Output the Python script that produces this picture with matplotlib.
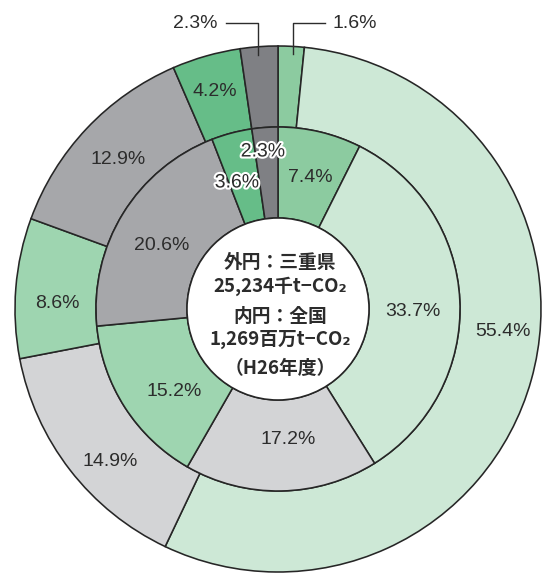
import matplotlib
matplotlib.use('Agg')
import matplotlib.pyplot as plt
import matplotlib.patheffects as pe
import numpy as np

# ---------------- data ----------------
outer_values = [1.6, 55.4, 14.9, 8.6, 12.9, 4.2, 2.3]   # 三重県
inner_values = [7.4, 33.7, 17.2, 15.2, 20.6, 3.6, 2.3]   # 全国
colors = ['#8ccba0', '#cde8d6', '#d3d4d6', '#9ed5b0', '#a6a7aa', '#66bd88', '#7f8084']
center_lines = ['外円：三重県', '25,234千t−CO₂', '内円：全国', '1,269百万t−CO₂', '（H26年度）']

# ---------------- layout (pixel coords, y measured from top) ----------------
W, H = 545, 574
CX, CY = 278, 309
R_OUT, R_MID, R_IN = 263, 182, 91
outer_label_pos = [None, (503, 332), (110, 461), (57, 303), (118, 160), (215, 91), None]
inner_label_pos = [(310, 178), (413, 311), (288, 440), (174, 392), (162, 246), (237, 183), (263, 152)]
center_line_y = [263, 286, 317, 339, 368]
TXT = '#2c2c2c'
EDGE = '#262626'

fig = plt.figure(figsize=(W / 100, H / 100), dpi=100)
ax = fig.add_axes([0, 0, 1, 1])

def Y(y):
    return H - y

wp = dict(edgecolor=EDGE, linewidth=1.15)
ax.pie(outer_values, radius=R_OUT, center=(CX, Y(CY)), startangle=90, counterclock=False,
       colors=colors, wedgeprops=dict(width=R_OUT - R_MID, **wp), normalize=True)
ax.pie(inner_values, radius=R_MID, center=(CX, Y(CY)), startangle=90, counterclock=False,
       colors=colors, wedgeprops=dict(width=R_MID - R_IN, **wp), normalize=True)
ax.add_patch(plt.Circle((CX, Y(CY)), R_IN, facecolor='white', edgecolor=EDGE, linewidth=1.15, zorder=5))

numfont = dict(family='Liberation Sans', fontsize=14, color=TXT, ha='center', va='center')

for v, p in zip(outer_values, outer_label_pos):
    if p is not None:
        ax.text(p[0], Y(p[1]), f'{v:.1f}%', **numfont)

stroke = [pe.withStroke(linewidth=3, foreground='white')]
for i, (v, p) in enumerate(zip(inner_values, inner_label_pos)):
    t = ax.text(p[0], Y(p[1]), f'{v:.1f}%', zorder=6, **numfont)
    if i >= 5:
        t.set_path_effects(stroke)

# leader lines for the two small outer slices
total = sum(outer_values)
cum = np.cumsum([0] + outer_values)
LEAD_Y = 23
for idx, side in [(0, 1), (6, -1)]:
    mid = 90 - 360 * (cum[idx] + outer_values[idx] / 2) / total
    r = 255
    px = CX + r * np.cos(np.radians(mid)) + 2 * side
    py = CY - r * np.sin(np.radians(mid))
    hx = px + side * 32
    ax.plot([px, px, hx], [Y(py), Y(LEAD_Y), Y(LEAD_Y)], color=TXT, lw=1.0, zorder=7)
    ax.text(hx + side * 8, Y(LEAD_Y), f'{outer_values[idx]:.1f}%',
            family='Liberation Sans', fontsize=14, color=TXT,
            ha='left' if side > 0 else 'right', va='center')

for line, y in zip(center_lines, center_line_y):
    ax.text(280, Y(y), line, family=['Noto Sans CJK JP', 'DejaVu Sans'], fontsize=13.5,
            fontweight='bold', color=TXT, ha='center', va='center', zorder=7)

ax.set_xlim(0, W)
ax.set_ylim(0, H)
ax.set_aspect('equal')
ax.axis('off')
fig.savefig('out.png', dpi=100, facecolor='white')
